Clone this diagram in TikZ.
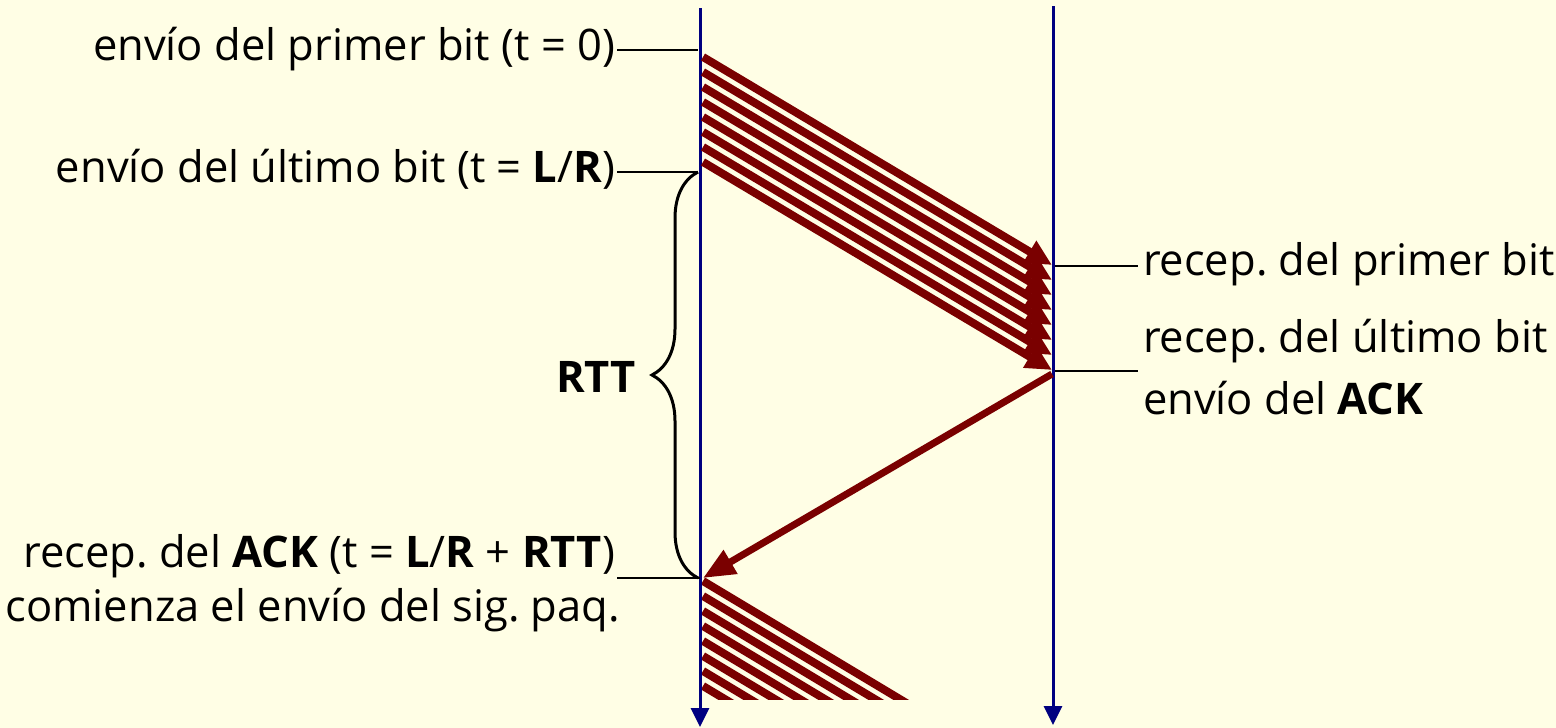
\documentclass[tikz,border=0pt]{standalone}
\usepackage{fontspec}
\setmainfont{Open Sans}
\usetikzlibrary{arrows.meta,decorations.pathreplacing}
\definecolor{bgc}{RGB}{255,254,229}
\definecolor{wire}{RGB}{0,0,128}
\definecolor{pkt}{RGB}{122,0,0}
\frenchspacing
\begin{document}
\begin{tikzpicture}[x=1pt,y=-1pt,
  lbl/.style={font=\fontsize{43.5}{50}\selectfont, inner sep=0pt, outer sep=0pt},
  leader/.style={line width=1.5pt, black},
  timeline/.style={line width=3pt, wire, -{Triangle[length=19pt,width=18pt]}},
  bitline/.style={line width=8pt, pkt, -{Triangle[length=26pt,width=24pt]}},
  bitplain/.style={line width=8pt, pkt},
  ackline/.style={line width=7pt, pkt, -{Triangle[length=32pt,width=26pt]}},
  bracestyle/.style={line width=3pt, black, decorate, decoration={brace, amplitude=46pt}},
]
\fill[bgc] (0,0) rectangle (1556,728);
\useasboundingbox (0,0) rectangle (1556,728);

% time lines
\coordinate (Ltop) at (700,8);
\coordinate (Lbot) at (700,727);
\coordinate (Rtop) at (1053,6);
\coordinate (Rbot) at (1053,725);
\draw[timeline] (Ltop) -- (Lbot);
\draw[timeline] (Rtop) -- (Rbot);

% packet bits
\foreach \k in {0,...,7}{
  \coordinate (s\k) at (703,{57+15*\k});
  \coordinate (e\k) at (1052,{265+15*\k});
  \draw[bitline] (s\k) -- (e\k);
}

% ACK
\coordinate (ackS) at (1052,374);
\coordinate (ackE) at (703,578);
\draw[ackline] (ackS) -- (ackE);

% next packet (cut off)
\begin{scope}
  \clip (702,575) rectangle (1100,699);
  \foreach \k in {0,...,7}{
    \coordinate (b\k) at (703,{581+15*\k});
    \coordinate (c\k) at (1003,{761+15*\k});
    \draw[bitplain] (b\k) -- (c\k);
  }
\end{scope}

% labels
\node[lbl, anchor=base east] (t1) at (615,60) {envío del primer bit (t = 0)};
\node[lbl, anchor=base east] (t2) at (615,182) {envío del último bit (t = \textbf{L}/\textbf{R})};
\node[lbl, anchor=base west] (t3) at (1143,275) {recep. del primer bit};
\node[lbl, anchor=base west] (t4) at (1143,352) {recep. del último bit};
\node[lbl, anchor=base west] (t5) at (1143,414) {envío del \textbf{ACK}};
\node[lbl, anchor=base east] (rtt) at (636,392) {\textbf{RTT}};
\node[lbl, anchor=base east] (t6) at (615,567) {recep. del \textbf{ACK} (t = \textbf{L}/\textbf{R} + \textbf{RTT})};
\node[lbl, anchor=base east] (t7) at (620,621) {comienza el envío del sig. paq.};

% leaders
\coordinate (p1) at (698,50);
\coordinate (p2) at (698,172);
\coordinate (p3) at (700,578);
\coordinate (q1) at (1055,266);
\coordinate (q2) at (1055,371);
\draw[leader] ([xshift=2pt]p1 -| t1.east) -- (p1);
\draw[leader] ([xshift=2pt]p2 -| t2.east) -- (p2);
\draw[leader] ([xshift=2pt]p3 -| t6.east) -- (p3);
\draw[leader] (q1) -- ([xshift=-5pt]q1 -| t3.west);
\draw[leader] (q2) -- ([xshift=-5pt]q2 -| t4.west);

% RTT brace
\coordinate (brB) at (698,578);
\coordinate (brT) at (698,172);
\draw[bracestyle] (brB) -- (brT);
\end{tikzpicture}
\end{document}
